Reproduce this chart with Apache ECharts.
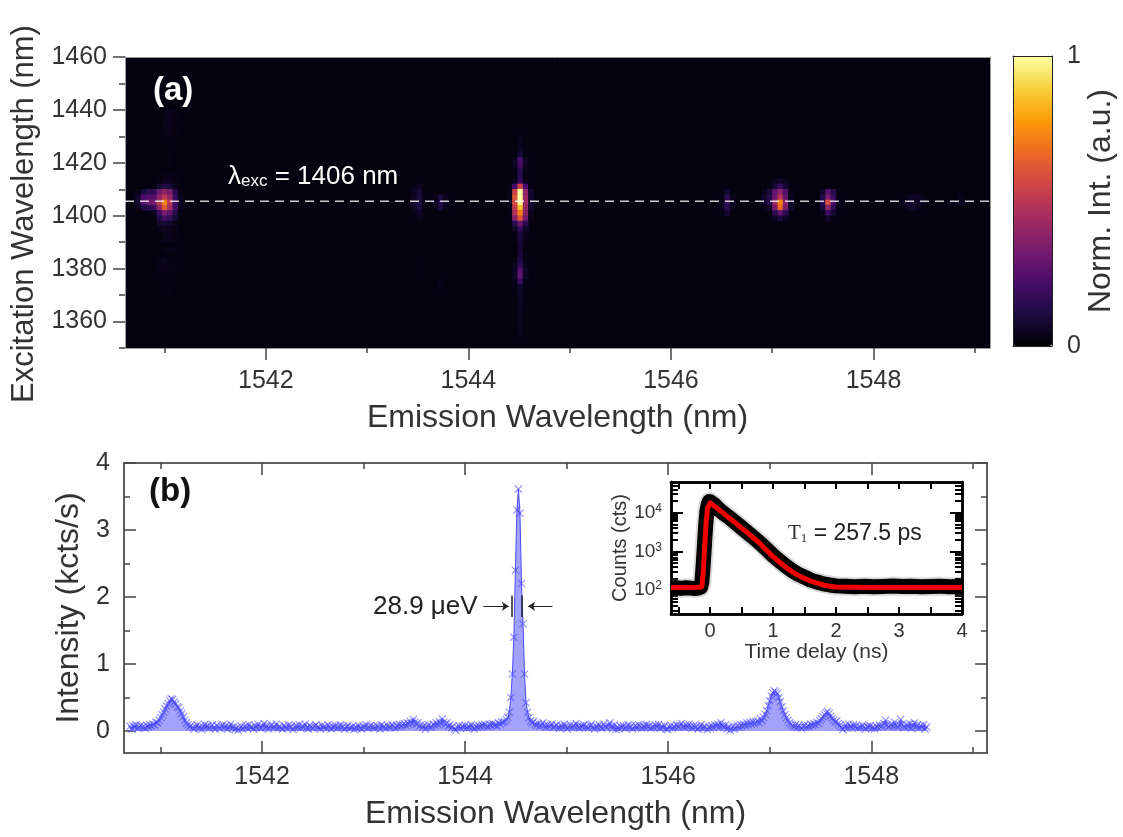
<!DOCTYPE html>
<html>
<head>
<meta charset="utf-8">
<title>Emission map and spectrum</title>
<script src="https://cdn.jsdelivr.net/npm/echarts@6/dist/echarts.min.js"></script>
<style>
  html, body { margin: 0; background: #fff; }
  #main { width: 1123px; height: 837px; }
</style>
</head>
<body>
<div id="main"></div>
<script>
// panel (a): cells, each entry is [row, first column, values...]
var mapCols = 163, mapRows = 55;
var peak1541 = [
  [44, 7, [.03, .04, .03]], [43, 7, [.03, .05, .03]], [42, 7, [.04, .05, .03]], [41, 7, [.03, .05, .03]], [40, 7, [.03, .04, .03]],
  [38, 7, [.02, .03, .02]], [36, 7, [.02, .03, .02]], [34, 7, [.02, .03, .02]], [32, 7, [.03, .04, .03]],
  [31, 6, [.03, .05, .05, .03]],
  [30, 6, [.08, .12, .10, .05]],
  [29, 2, [.03, .10, .15, .17, .32, .38, .33, .15, .04]],
  [28, 2, [.08, .22, .25, .25, .38, .50, .40, .18, .05]],
  [27, 2, [.08, .24, .30, .33, .50, .72, .50, .20, .05]],
  [26, 2, [.04, .12, .15, .19, .40, .62, .45, .20, .04]],
  [25, 5, [.05, .20, .33, .27, .14, .03]],
  [24, 6, [.12, .20, .17, .08]],
  [23, 6, [.07, .09, .08, .04]],
  [22, 6, [.04, .05, .05, .03]],
  [21, 7, [.04, .05, .03]], [20, 7, [.04, .04, .03]], [18, 7, [.03, .04, .03]], [16, 6, [.03, .04, .03, .03]],
  [15, 6, [.04, .03, .03, .03]], [14, 6, [.03, .03, .03]], [12, 7, [.03, .03]], [10, 7, [.03, .03, .02]]
];
var peak1544 = [
  [40, 74, [.03]], [39, 74, [.04]], [38, 74, [.04]], [37, 74, [.06]],
  [36, 73, [.02, .10, .02]], [35, 73, [.06, .22, .06]], [34, 73, [.05, .20, .05]], [33, 73, [.03, .15, .04]], [32, 73, [.03, .14, .03]],
  [31, 73, [.05, .18, .05]],
  [30, 72, [.03, .22, .55, .22, .03]],
  [29, 72, [.04, .55, 1, .40, .08]],
  [28, 72, [.05, .60, 1, .42, .08]],
  [27, 72, [.05, .58, .98, .42, .08]],
  [26, 72, [.04, .52, .85, .40, .07]],
  [25, 72, [.03, .48, .72, .38, .05]],
  [24, 72, [.03, .38, .60, .32, .04]],
  [23, 73, [.15, .30, .15]], [22, 73, [.07, .18, .07]],
  [21, 73, [.03, .10, .04]], [20, 73, [.03, .10, .03]], [19, 73, [.02, .09, .03]], [18, 73, [.02, .09, .02]], [17, 73, [.02, .10, .03]],
  [16, 73, [.03, .13, .04]], [15, 73, [.05, .17, .05]], [14, 73, [.06, .26, .06]], [13, 73, [.06, .27, .06]], [12, 73, [.04, .18, .04]],
  [11, 74, [.07]], [10, 74, [.06]], [9, 74, [.05]], [8, 74, [.06]], [7, 74, [.05]], [6, 74, [.05]], [5, 74, [.04]], [4, 74, [.05]], [3, 74, [.04]], [2, 74, [.04]]
];
var peak1547 = [
  [31, 122, [.04, .07, .04]],
  [30, 122, [.09, .18, .09]],
  [29, 120, [.05, .10, .28, .38, .24, .04]],
  [28, 120, [.07, .14, .30, .48, .28, .05]],
  [27, 120, [.07, .15, .42, .72, .38, .07]],
  [26, 120, [.03, .07, .34, .66, .34, .07]],
  [25, 122, [.15, .28, .15]],
  [24, 122, [.05, .11, .05]],
  [29, 131, [.07, .25, .14]],
  [28, 131, [.12, .33, .18, .03]],
  [27, 131, [.15, .58, .24, .04]],
  [26, 131, [.10, .38, .16, .03]],
  [25, 131, [.05, .20, .08]],
  [24, 132, [.07, .03]]
];
var faintSpots = [
  [30, 54, [.03, .05]], [29, 54, [.05, .09]], [28, 54, [.06, .10, .03]], [27, 54, [.08, .12, .03]], [26, 54, [.06, .10]], [25, 54, [.04, .06]],
  [24, 54, [.03, .04]], [16, 55, [.03]], [14, 55, [.03]], [12, 59, [.03]], [11, 59, [.04]],
  [28, 58, [.04, .10, .04]], [27, 58, [.06, .14, .06]], [26, 58, [.04, .10, .04]],
  [29, 113, [.08]], [28, 112, [.04, .15, .04]], [27, 112, [.05, .18, .05]], [26, 112, [.04, .15, .04]], [25, 113, [.08]],
  [28, 147, [.04, .06, .06, .03]], [27, 146, [.04, .06, .08, .07, .05]], [26, 147, [.05, .07, .05]],
  [27, 155, [.03, .04, .05, .04]], [28, 157, [.04]]
];

// panel (b)
var spectrumStart = 1540.70, spectrumStep = 0.015;
var spectrumCounts = [
  .07,.03,.08,.05,.09,.04,.06,.08,.05,.07,.04,.08,.06,.09,.07,.10,.09,.13,.12,.16,
  .20,.24,.28,.33,.37,.41,.45,.48,.47,.43,.40,.36,.35,.30,.26,.21,.16,.12,.09,.06,
  .08,.05,.03,.06,.09,.04,.07,.02,.06,.10,.05,.08,.04,.07,.09,.05,.03,.08,.06,.04,
  .07,.09,.05,.08,.03,.06,.10,.04,.07,.02,.05,.01,.04,.07,.03,.06,.08,.04,.09,.05,
  .06,.03,.08,.05,.10,.06,.04,.07,.11,.05,.08,.03,.07,.09,.05,.06,.10,.04,.07,.05,
  .03,.08,.06,.04,.09,.05,.07,.02,.06,.08,.05,.09,.04,.07,.06,.10,.05,.03,.08,.06,
  .04,.07,.09,.05,.06,.03,.08,.05,.07,.04,.09,.06,.03,.07,.05,.08,.04,.06,.09,.05,
  .07,.03,.06,.08,.04,.05,.07,.02,.06,.04,.08,.05,.03,.07,.05,.09,.04,.06,.08,.05,
  .07,.04,.08,.06,.03,.09,.05,.07,.04,.08,.06,.05,.09,.07,.04,.08,.06,.10,.07,.09,
  .11,.08,.12,.10,.14,.11,.17,.13,.10,.12,.07,.09,.05,.08,.03,.06,.09,.05,.07,.10,
  .08,.12,.09,.14,.11,.18,.13,.10,.12,.07,.09,.05,.07,.03,.01,.05,.08,.04,.07,.05,
  .08,.04,.07,.05,.09,.06,.03,.07,.05,.08,.06,.09,.07,.10,.08,.06,.10,.08,.11,.09,
  .09,.07,.12,.10,.13,.13,.14,.17,.20,.28,.50,.85,1.40,2.40,3.30,3.61,3.25,2.20,1.60,.85,
  .42,.28,.20,.15,.12,.14,.10,.08,.11,.07,.09,.12,.08,.05,.09,.06,.08,.10,.05,.07,
  .09,.06,.04,.08,.05,.10,.07,.03,.06,.09,.05,.08,.06,.11,.07,.04,.08,.06,.09,.05,
  .07,.04,.08,.10,.06,.03,.07,.05,.09,.06,.04,.10,.07,.05,.08,.12,.07,.04,.09,.02,
  .06,.03,.07,.05,.08,.04,.06,.09,.05,.07,.03,.06,.08,.05,.09,.07,.04,.08,.05,.10,
  .06,.08,.04,.07,.05,.09,.06,.10,.04,.07,.05,.08,.03,.02,.06,.08,.04,.07,.05,.09,
  .06,.08,.11,.07,.05,.09,.06,.10,.07,.04,.08,.05,.07,.03,.06,.09,.04,.07,.05,.02,
  .06,.04,.08,.05,.09,.07,.10,.06,.12,.08,.05,.09,.03,.06,.01,.04,.07,.03,.06,.08,
  .05,.09,.07,.10,.08,.12,.09,.13,.10,.14,.11,.13,.15,.12,.18,.15,.20,.25,.30,.38,
  .45,.52,.57,.60,.58,.56,.50,.44,.36,.30,.24,.20,.16,.12,.10,.08,.06,.09,.05,.08,
  .06,.04,.07,.09,.05,.08,.06,.10,.08,.11,.09,.13,.11,.15,.18,.21,.24,.27,.29,.26,
  .22,.19,.16,.13,.15,.11,.08,.05,.02,.06,.09,.04,.10,.07,.05,.09,.06,.08,.04,.07,
  .05,.08,.06,.03,.07,.05,.08,.04,.06,.03,.07,.05,.09,.06,.08,.11,.16,.09,.06,.08,
  .10,.07,.13,.08,.05,.09,.17,.10,.07,.05,.09,.06,.11,.04,.08,.12,.06,.09,.04,.08,.05,.09,.03,.06
];

// inset
var measuredTime = [-0.62, -0.54, -0.46, -0.38, -0.3, -0.24, -0.19, -0.15, -0.13, -0.11, -0.09, -0.07, -0.05, -0.03, -0.01, 0.02, 0.06, 0.12, 0.2, 0.3, 0.4, 0.5, 0.6, 0.7, 0.8, 0.9, 1, 1.1, 1.2, 1.3, 1.4, 1.5, 1.6, 1.7, 1.8, 1.9, 2, 2.15, 2.3, 2.45, 2.6, 2.75, 2.9, 3.05, 3.2, 3.35, 3.5, 3.65, 3.8, 4];
var measuredCounts = [112, 116, 110, 114, 112, 109, 112, 118, 160, 420, 1400, 4600, 11000, 16000, 19500, 19000, 16500, 13000, 10000, 7600, 5600, 4100, 3000, 2200, 1600, 1120, 780, 570, 420, 320, 255, 215, 180, 160, 145, 135, 128, 126, 122, 125, 121, 124, 127, 123, 125, 122, 124, 126, 121, 123];
var fitTime = [-0.62, -0.3, -0.17, -0.13, -0.105, -0.085, -0.063, -0.04, 0, 0.1, 0.2, 0.3, 0.4, 0.5, 0.6, 0.7, 0.8, 0.9, 1, 1.1, 1.2, 1.3, 1.4, 1.5, 1.6, 1.7, 1.8, 1.9, 2, 2.5, 4];
var fitCounts = [117, 117, 118, 123, 330, 1320, 5250, 13000, 18000, 13500, 10000, 7400, 5500, 4000, 2950, 2150, 1550, 1050, 730, 530, 390, 300, 240, 200, 170, 150, 135, 125, 120, 117, 117];

// ticks
var emissionMajor = [1542, 1544, 1546, 1548];
var emissionMinor = [1541, 1543, 1545, 1547, 1549];
var excitationMajor = [1360, 1380, 1400, 1420, 1440, 1460];
var excitationMinor = [1350, 1370, 1390, 1410, 1430, 1450];
var intensityMajor = [0, 1, 2, 3, 4];
var intensityMinor = [0.5, 1.5, 2.5, 3.5];
var delayMajor = [0, 1, 2, 3, 4];
var delayMinor = [-0.5, 0.5, 1.5, 2.5, 3.5];
var countsMajor = [100, 1000, 10000];
var countsMinor = [30, 40, 50, 60, 70, 80, 90, 200, 300, 400, 500, 600, 700, 800, 900, 2000, 3000, 4000, 5000, 6000, 7000, 8000, 9000, 20000, 30000, 40000, 50000, 60000];
var excitationLine = 1405.5;
var fwhmLeft = 1544.46, fwhmRight = 1544.56;
var inferno = ['#000004', '#1b0c41', '#4a0c6b', '#781c6d', '#a52c60', '#cf4446', '#ed6925', '#fb9b06', '#f7d13d', '#fcffa4'];

var FONT = 'Liberation Sans';
var TEXT = '#333';
var xAxes = [], yAxes = [];

function tickAxis(list, o) {
  list.push({
    type: o.type || 'value',
    gridIndex: o.grid,
    position: o.pos,
    min: o.min,
    max: o.max,
    z: o.z,
    name: o.name,
    nameLocation: 'middle',
    nameGap: o.nameGap,
    nameRotate: o.nameRotate,
    nameTextStyle: { fontFamily: FONT, fontSize: o.nameSize, color: TEXT, padding: o.namePadding || 0 },
    axisLine: { show: true, onZero: false, lineStyle: { color: o.frame || '#555', width: o.frameWidth || 1.5 } },
    axisTick: { show: !!o.ticks, customValues: o.ticks, length: o.len, inside: !!o.inside, lineStyle: { color: o.tickColor || '#444', width: o.tickWidth || 1.5 } },
    axisLabel: {
      show: !!o.labels, customValues: o.labels, margin: o.margin, fontFamily: FONT, fontSize: o.labelSize, color: TEXT,
      formatter: o.formatter || function (v) { return String(v); }, rich: o.rich
    },
    splitLine: { show: false }
  });
  return list.length - 1;
}

function categories(n) {
  var out = [];
  for (var i = 0; i < n; i++) out.push(i);
  return out;
}
function hiddenCategory(n, grid) {
  return { type: 'category', gridIndex: grid, show: false, data: categories(n) };
}

// grid 0: map
xAxes.push(hiddenCategory(mapCols, 0));
yAxes.push(hiddenCategory(mapRows, 0));
var mapX = tickAxis(xAxes, { grid: 0, frame: '#999', frameWidth: 1, pos: 'bottom', min: 1540.61, max: 1549.15, ticks: emissionMajor, len: 12, labels: emissionMajor, margin: 21, labelSize: 25, name: 'Emission Wavelength (nm)', nameGap: 54, nameSize: 32 });
tickAxis(xAxes, { grid: 0, frame: '#999', frameWidth: 1, pos: 'bottom', min: 1540.61, max: 1549.15, ticks: emissionMinor, len: 5 });
tickAxis(xAxes, { grid: 0, frame: '#999', frameWidth: 1, pos: 'top', min: 1540.61, max: 1549.15 });
var mapY = tickAxis(yAxes, { grid: 0, frame: '#999', frameWidth: 1, pos: 'left', min: 1350, max: 1460, ticks: excitationMajor, len: 12, labels: excitationMajor, margin: 18, labelSize: 25, name: 'Excitation Wavelength (nm)', nameGap: 85, nameSize: 31, namePadding: [0, 23, 0, 0] });
tickAxis(yAxes, { grid: 0, frame: '#999', frameWidth: 1, pos: 'left', min: 1350, max: 1460, ticks: excitationMinor, len: 6 });
tickAxis(yAxes, { grid: 0, frame: '#999', frameWidth: 1, pos: 'right', min: 1350, max: 1460 });

// grid 1: colour bar frame and its labels
tickAxis(xAxes, { grid: 1, z: 10, frame: '#222', frameWidth: 1, pos: 'bottom', min: 0, max: 1 });
tickAxis(xAxes, { grid: 1, z: 10, frame: '#222', frameWidth: 1, pos: 'top', min: 0, max: 1 });
tickAxis(yAxes, { grid: 1, z: 10, frame: '#222', frameWidth: 1, pos: 'left', min: 0, max: 1 });
tickAxis(yAxes, { grid: 1, z: 10, frame: '#222', frameWidth: 1, pos: 'right', min: 0, max: 1, labels: [0, 1], margin: 15, labelSize: 25, name: 'Norm. Int. (a.u.)', nameRotate: 90, nameGap: 32, nameSize: 32 });

// grid 2: spectrum
var specX = tickAxis(xAxes, { grid: 2, pos: 'bottom', min: 1540.64, max: 1549.14, ticks: emissionMajor, len: 12, inside: true, labels: emissionMajor, margin: 12, labelSize: 25, name: 'Emission Wavelength (nm)', nameGap: 45, nameSize: 32 });
tickAxis(xAxes, { grid: 2, pos: 'bottom', min: 1540.64, max: 1549.14, ticks: emissionMinor, len: 6, inside: true });
tickAxis(xAxes, { grid: 2, pos: 'top', min: 1540.64, max: 1549.14, ticks: emissionMajor, len: 12, inside: true });
tickAxis(xAxes, { grid: 2, pos: 'top', min: 1540.64, max: 1549.14, ticks: emissionMinor, len: 6, inside: true });
var specY = tickAxis(yAxes, { grid: 2, pos: 'left', min: -0.33, max: 4, ticks: intensityMajor, len: 12, inside: true, labels: intensityMajor, margin: 14, labelSize: 25, name: 'Intensity (kcts/s)', nameGap: 33, nameSize: 32 });
tickAxis(yAxes, { grid: 2, pos: 'left', min: -0.33, max: 4, ticks: intensityMinor, len: 6, inside: true });
tickAxis(yAxes, { grid: 2, pos: 'right', min: -0.33, max: 4, ticks: intensityMajor, len: 12, inside: true });
tickAxis(yAxes, { grid: 2, pos: 'right', min: -0.33, max: 4, ticks: intensityMinor, len: 6, inside: true });

// grid 3: inset
var INK = { frame: '#000', frameWidth: 2.5, tickColor: '#000', tickWidth: 2, inside: true };
function ink(o) { return Object.assign({ grid: 3 }, INK, o); }
var decayX = tickAxis(xAxes, ink({ pos: 'bottom', min: -0.62, max: 4, ticks: delayMajor, len: 7, labels: delayMajor, margin: 7, labelSize: 20, name: 'Time delay (ns)', nameGap: 22, nameSize: 21 }));
tickAxis(xAxes, ink({ pos: 'bottom', min: -0.62, max: 4, ticks: delayMinor, len: 7 }));
tickAxis(xAxes, ink({ pos: 'top', min: -0.62, max: 4, ticks: delayMajor, len: 7 }));
tickAxis(xAxes, ink({ pos: 'top', min: -0.62, max: 4, ticks: delayMinor, len: 7 }));
var decayY = tickAxis(yAxes, ink({
  type: 'log', pos: 'left', min: 24, max: 62000, ticks: countsMajor, len: 12, labels: countsMajor, margin: 9, labelSize: 19,
  formatter: function (v) { return '{b|10}{s|' + Math.round(Math.log10(v)) + '}'; },
  rich: { b: { fontFamily: FONT, fontSize: 19, color: TEXT }, s: { fontFamily: FONT, fontSize: 12, color: TEXT, verticalAlign: 'top', padding: [0, 0, 8, 0] } },
  name: 'Counts (cts)', nameGap: 36, nameSize: 20
}));
tickAxis(yAxes, ink({ type: 'log', pos: 'left', min: 24, max: 62000, ticks: countsMinor, len: 7 }));
tickAxis(yAxes, ink({ type: 'log', pos: 'right', min: 24, max: 62000, ticks: countsMajor, len: 12 }));
tickAxis(yAxes, ink({ type: 'log', pos: 'right', min: 24, max: 62000, ticks: countsMinor, len: 7 }));

// flatten the map tables into heatmap cells
var mapCells = [];
[peak1541, peak1544, peak1547, faintSpots].forEach(function (table) {
  table.forEach(function (r) {
    r[2].forEach(function (v, k) { mapCells.push([r[1] + k, r[0], v]); });
  });
});

var spectrumData = spectrumCounts.map(function (v, i) {
  return [spectrumStart + i * spectrumStep, v];
});
function zip(a, b) {
  return a.map(function (v, i) { return [v, b[i]]; });
}
function arrowLine(from, to, y) {
  return [{ coord: [from, y] }, { coord: [to, y] }];
}

var chart = echarts.init(document.getElementById('main'));
chart.setOption({
  animation: false,
  textStyle: { fontFamily: FONT },
  grid: [
    { left: 125, top: 57, width: 865, height: 291, outerBoundsMode: 'none', show: true, backgroundColor: '#04020f', borderWidth: 0 },
    { left: 1013, top: 56, width: 39, height: 290, outerBoundsMode: 'none' },
    { left: 124, top: 463, width: 863, height: 290, outerBoundsMode: 'none' },
    { left: 671, top: 482, width: 291, height: 132, outerBoundsMode: 'none' }
  ],
  xAxis: xAxes,
  yAxis: yAxes,
  visualMap: {
    type: 'continuous',
    seriesIndex: 0,
    min: 0,
    max: 1,
    left: 1013,
    top: 56,
    z: 1,
    padding: 0,
    itemWidth: 39,
    itemHeight: 290,
    text: null,
    showLabel: false,
    calculable: false,
    inRange: { color: inferno }
  },
  series: [
    { name: 'map', type: 'heatmap', xAxisIndex: 0, yAxisIndex: 0, data: mapCells, silent: true, itemStyle: { borderWidth: 0 }, progressive: 0 },
    {
      name: 'excitation', type: 'line', xAxisIndex: mapX, yAxisIndex: mapY, symbol: 'none', silent: true, z: 5,
      data: [[1540.61, excitationLine], [1549.15, excitationLine]],
      lineStyle: { color: 'rgba(255,255,255,0.8)', width: 1.5, type: [9, 6] }
    },
    {
      name: 'spectrum', type: 'line', xAxisIndex: specX, yAxisIndex: specY, data: spectrumData, silent: true,
      symbol: 'path://M1,0 L5,4 L9,0 L10,1 L6,5 L10,9 L9,10 L5,6 L1,10 L0,9 L4,5 L0,1 Z',
      symbolSize: 8, showAllSymbol: true,
      itemStyle: { color: 'rgba(70,70,255,0.6)' },
      lineStyle: { color: '#4a4aff', width: 1 },
      areaStyle: { color: '#a2a2fb', opacity: 1 }
    },
    {
      name: 'fwhm', type: 'line', xAxisIndex: specX, yAxisIndex: specY, data: [], silent: true,
      markLine: {
        silent: true, animation: false, label: { show: false }, symbol: ['none', 'arrow'], symbolSize: 7,
        lineStyle: { color: '#222', width: 1, type: 'solid' },
        data: [arrowLine(1544.18, 1544.43, 1.86), arrowLine(1544.86, 1544.62, 1.86)]
      }
    },
    {
      name: 'fwhmBars', type: 'line', xAxisIndex: specX, yAxisIndex: specY, data: [], silent: true,
      markLine: {
        silent: true, animation: false, label: { show: false }, symbol: 'none',
        lineStyle: { color: '#222', width: 1.5, type: 'solid' },
        data: [
          [{ coord: [fwhmLeft, 2.02] }, { coord: [fwhmLeft, 1.70] }],
          [{ coord: [fwhmRight, 2.02] }, { coord: [fwhmRight, 1.70] }]
        ]
      }
    },
    {
      name: 'measuredHalo', type: 'line', xAxisIndex: decayX, yAxisIndex: decayY, data: zip(measuredTime, measuredCounts), symbol: 'none', silent: true,
      lineStyle: { color: 'rgba(90,90,90,0.22)', width: 19, join: 'round' }
    },
    {
      name: 'measured', type: 'line', xAxisIndex: decayX, yAxisIndex: decayY, data: zip(measuredTime, measuredCounts), symbol: 'none', silent: true,
      lineStyle: { color: '#000', width: 15, join: 'round' }
    },
    {
      name: 'fit', type: 'line', xAxisIndex: decayX, yAxisIndex: decayY, data: zip(fitTime, fitCounts), symbol: 'none', silent: true,
      lineStyle: { color: '#f00000', width: 5, join: 'round' }
    }
  ],
  graphic: [
    { type: 'text', left: 153, top: 74, z: 20, style: { text: '(a)', fill: '#fff', font: 'bold 33px "Liberation Sans"' } },
    {
      type: 'text', left: 228, top: 164, z: 20,
      style: {
        text: '{a|λ}{b|exc}{a| = 1406 nm}', fill: '#fff',
        rich: {
          a: { fill: '#fff', fontFamily: FONT, fontSize: 26 },
          b: { fill: '#fff', fontFamily: FONT, fontSize: 17, verticalAlign: 'bottom', padding: [8, 0, 0, 0] }
        }
      }
    },
    { type: 'text', left: 149, top: 475, z: 20, style: { text: '(b)', fill: '#111', font: 'bold 33px "Liberation Sans"' } },
    { type: 'text', left: 373, top: 594, z: 20, style: { text: '28.9 μeV', fill: '#222', font: '26px "Liberation Sans"' } },
    {
      type: 'text', left: 788, top: 522, z: 20,
      style: {
        text: '{t|T}{s|1}{a| = 257.5 ps}',
        rich: {
          t: { fill: '#333', fontFamily: 'Liberation Serif', fontSize: 21 },
          s: { fill: '#333', fontFamily: 'Liberation Serif', fontSize: 13, verticalAlign: 'bottom', padding: [6, 0, 0, 0] },
          a: { fill: '#222', fontFamily: FONT, fontSize: 23 }
        }
      }
    }
  ]
});
</script>
</body>
</html>
